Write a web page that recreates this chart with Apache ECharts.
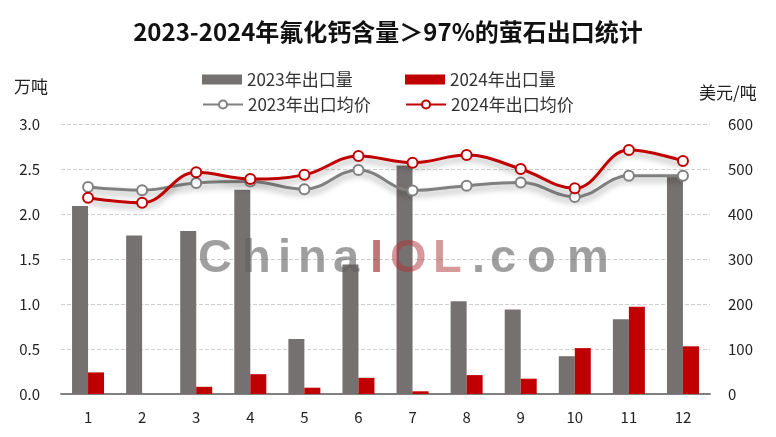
<!DOCTYPE html>
<html><head><meta charset="utf-8">
<script src="https://cdn.jsdelivr.net/npm/echarts@6/dist/echarts.min.js"></script>
<style>html,body{margin:0;padding:0;background:#fff}#c{width:776px;height:437px}</style>
</head><body><div id="c"></div>
<script>
const months = ['1','2','3','4','5','6','7','8','9','10','11','12'];
const vol2023 = [2.09,1.76,1.81,2.27,0.61,1.44,2.54,1.03,0.94,0.42,0.83,2.42];
const vol2024 = [0.24,0,0.08,0.22,0.07,0.18,0.03,0.21,0.17,0.51,0.97,0.53];
const price2023 = [460,453,469,472,455,498,452,463,470,438,485,485];
const price2024 = [436,425,493,478,487,529,514,531,500,457,542,518];
const leftTicks = [0,0.5,1.0,1.5,2.0,2.5,3.0];
const rightTicks = [0,100,200,300,400,500,600];

const chart = echarts.init(document.getElementById('c'));
const FONT = '"Noto Sans CJK SC","Noto Sans",sans-serif';
const wmLetters = 'ChinaIOL.com'.split('');
const wmX = [198,242,278,298,333,370,390,433,472,490,527,567];
const wmGraphics = wmLetters.map((ch,i)=>({
  type:'text', left: wmX[i], top: 236, z: 100, silent:true,
  style:{text:ch, font:'bold 47px "Liberation Sans", Arial, sans-serif',
    fill: i===5 ? 'rgba(140,30,35,0.6)' : ((i===6 || i===7) ? 'rgba(175,50,55,0.5)' : 'rgba(95,95,95,0.6)')}
}));
const lineShadow = {shadowColor:'rgba(0,0,0,0.35)', shadowBlur:6, shadowOffsetY:4};
const legendText = {fontSize:17, color:'#333', fontFamily:FONT};
chart.setOption({
  animation:false,
  title:{text:'2023-2024年氟化钙含量＞97%的萤石出口统计', left:'center', top:15,
    textStyle:{fontSize:24, fontWeight:'bold', color:'#111', fontFamily:FONT}},
  legend:[
    {data:[{name:'2023年出口量', icon:'rect'}], left:197, top:66, itemWidth:40, itemHeight:10, itemGap:5, textStyle:legendText},
    {data:[{name:'2024年出口量', icon:'rect'}], left:400, top:66, itemWidth:40, itemHeight:10, itemGap:5, textStyle:legendText},
    {data:['2023年出口均价'], left:197, top:91, itemWidth:40, itemHeight:10, textStyle:legendText},
    {data:['2024年出口均价'], left:400, top:91, itemWidth:40, itemHeight:10, textStyle:legendText}
  ],
  grid:{left:61, right:66, top:124, bottom:43},
  xAxis:{type:'category', data:months,
    axisLine:{lineStyle:{color:'#808080', width:2}}, axisTick:{show:false},
    axisLabel:{fontSize:15, color:'#222', margin:16, fontFamily:FONT}},
  yAxis:[
    {type:'value', min:0, max:3, interval:0.5,
     axisLabel:{formatter:v=>v.toFixed(1), fontSize:15, color:'#222', margin:21, fontFamily:FONT},
     splitLine:{lineStyle:{type:'dashed', color:'#cfcfcf'}}, axisLine:{show:false}, axisTick:{show:false}},
    {type:'value', min:0, max:600, interval:100,
     axisLabel:{fontSize:15, color:'#222', margin:18, fontFamily:FONT},
     splitLine:{show:false}, axisLine:{show:false}, axisTick:{show:false}}
  ],
  graphic:[
    {type:'text', left:14, top:78, style:{text:'万吨', font:'17px '+FONT, fill:'#222'}},
    {type:'text', left:699, top:84, style:{text:'美元/吨', font:'17px '+FONT, fill:'#222'}},
    ...wmGraphics
  ],
  series:[
    {name:'2023年出口量', type:'bar', data:vol2023, barWidth:16, barGap:'0%', itemStyle:{color:'#767171'}},
    {name:'2024年出口量', type:'bar', data:vol2024, barWidth:16, barGap:'0%', itemStyle:{color:'#C00000'}},
    {name:'2023年出口均价', type:'line', yAxisIndex:1, data:price2023, smooth:0.4,
     symbol:'circle', symbolSize:10, z:5,
     lineStyle:Object.assign({color:'#808080', width:3}, lineShadow),
     itemStyle:{color:'#fff', borderColor:'#808080', borderWidth:2}},
    {name:'2024年出口均价', type:'line', yAxisIndex:1, data:price2024, smooth:0.4,
     symbol:'circle', symbolSize:10, z:6,
     lineStyle:Object.assign({color:'#C00000', width:3}, lineShadow),
     itemStyle:{color:'#fff', borderColor:'#C00000', borderWidth:2}}
  ]
});
</script></body></html>
